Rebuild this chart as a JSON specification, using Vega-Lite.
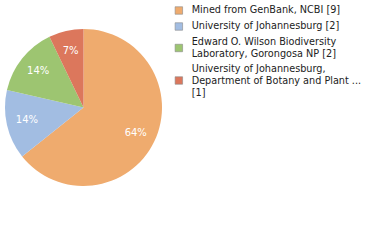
{
  "$schema": "https://vega.github.io/schema/vega-lite/v6.json",
  "autosize": "none",
  "width": 167,
  "height": 215,
  "padding": {"left": 0, "top": 0, "right": 213, "bottom": 25},
  "background": "white",
  "config": {"view": {"stroke": null}},
  "data": {
    "values": [
      {"name": "Mined from GenBank, NCBI [9]", "count": 9, "order": 1},
      {"name": "University of Johannesburg [2]", "count": 2, "order": 2},
      {"name": "Edward O. Wilson Biodiversity|Laboratory, Gorongosa NP [2]", "count": 2, "order": 3},
      {"name": "University of Johannesburg,|Department of Botany and Plant ...|[1]", "count": 1, "order": 4}
    ]
  },
  "transform": [
    {"joinaggregate": [{"op": "sum", "field": "count", "as": "total"}]},
    {"calculate": "datum.count / datum.total", "as": "frac"}
  ],
  "encoding": {
    "theta": {"field": "count", "type": "quantitative", "stack": true},
    "order": {"field": "order", "type": "quantitative"}
  },
  "layer": [
    {
      "mark": {"type": "arc", "radius": 78.5, "strokeWidth": 0},
      "encoding": {
        "color": {
          "field": "name",
          "type": "nominal",
          "sort": {"field": "order"},
          "scale": {"range": ["#EFAB6E", "#A2BDE2", "#9DC571", "#DC775C"]},
          "legend": {
            "orient": "none",
            "legendX": 174,
            "legendY": 5,
            "title": null,
            "symbolType": "square",
            "symbolSize": 56,
            "symbolStrokeWidth": 0.6,
            "symbolStrokeColor": "#8a8a8a",
            "symbolOpacity": 1,
            "labelFont": "DejaVu Sans",
            "labelFontSize": 9.7,
            "labelColor": "#222",
            "labelLimit": 300,
            "labelOffset": 8,
            "labelBaseline": "top",
            "rowPadding": 5,
            "labelExpr": "split(datum.label, '|')",
            "encoding": {
              "labels": {
                "y": {"value": 0},
                "lineHeight": {"value": 12}
              },
              "symbols": {
                "y": {"value": {"expr": "5.5 * length(split(datum.value, '|'))"}}
              }
            }
          }
        }
      }
    },
    {
      "mark": {"type": "text", "radius": 58, "font": "DejaVu Sans", "fontSize": 10, "fill": "white"},
      "encoding": {
        "text": {"field": "frac", "type": "quantitative", "format": ".0%"}
      }
    }
  ]
}
